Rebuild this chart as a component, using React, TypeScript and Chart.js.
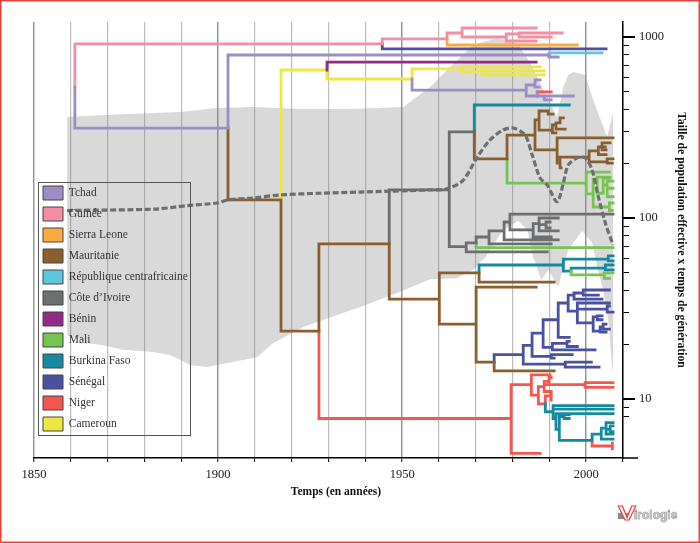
import React, { useEffect, useRef } from "react";
import { Chart, registerables } from "chart.js";

Chart.register(...registerables);

type P = [number, number];

const tchad: P[][] = [
  [[1861.1, 529], [1861.1, 314], [1902.7, 314], [1902.7, 795], [1989.9, 795], [1989.9, 775], [1992.4, 775]],
  [[1952.7, 586], [1952.7, 509], [1983.7, 509]],
  [[1983.7, 543], [1983.7, 472], [1986.7, 472]],
  [[1983.7, 543], [1986.1, 543]],
  [[1986.1, 579], [1986.1, 529], [1987.2, 529]],
  [[1986.1, 579], [1987.5, 579]],
  [[1986.7, 497], [1986.7, 472], [1988.6, 472], [1996.5, 472]],
  [[1988.6, 472], [1988.6, 449], [1990.5, 449]],
];
const guinee: P[][] = [
  [[1861.1, 529], [1861.1, 915], [1944.6, 915], [1944.6, 975], [1962.2, 975], [1962.2, 1052], [1966.3, 1052], [1966.3, 1121], [1986.4, 1121]],
  [[1966.3, 1052], [1966.3, 1000], [1978.3, 1000]],
  [[1978.3, 1039], [1978.3, 950], [1986.4, 950]],
  [[1978.3, 1039], [1981.8, 1039]],
  [[1981.8, 1052], [1993.5, 1052]],
  [[1981.8, 1052], [1981.8, 1000], [1990.5, 1000]],
];
const sierraLeone: P[][] = [
  [[1962.2, 975], [1962.2, 903], [1997.6, 903]],
];
const mauritanie: P[][] = [
  [[1902.7, 314], [1902.7, 126], [1917.1, 126], [1917.1, 23.7], [1927.4, 23.7], [1927.4, 72], [1946.5, 72], [1946.5, 35.6], [1960.1, 35.6], [1960.1, 49.7], [1970.9, 49.7], [1970.9, 44.2], [1991.3, 44.2]],
  [[1960.1, 35.6], [1960.1, 25.9], [1970.1, 25.9], [1970.1, 41.5], [1986.4, 41.5]],
  [[1970.1, 25.9], [1970.1, 16], [1975, 16], [1975, 14.3], [1991.3, 14.3]],
  [[1969.6, 299], [1969.6, 212], [1978.5, 212], [1978.5, 287], [1986.1, 287]],
  [[1986.1, 348], [1986.1, 238], [1992.1, 238]],
  [[1986.1, 348], [1987.2, 348], [1987.2, 390], [1989.7, 390], [1989.7, 375], [1991, 375]],
  [[1987.2, 348], [1987.2, 306], [1990.8, 306]],
  [[1990.8, 327], [1990.8, 295], [1991.8, 295]],
  [[1990.8, 327], [1991.8, 327]],
  [[1991.8, 335], [1991.8, 310], [1994.3, 310]],
  [[1991.8, 335], [1992.9, 335], [1992.9, 357], [1993.8, 357]],
  [[1992.1, 277], [1992.1, 201]],
  [[1992.1, 277], [2007.3, 277]],
  [[1992.1, 217], [2000.8, 217]],
  [[1992.9, 217], [1992.9, 189], [1993.2, 189]],
  [[2000.8, 235], [2000.8, 204], [2005.7, 204]],
  [[2005.7, 212], [2007.3, 212]],
  [[2005.7, 212], [2005.7, 201], [2007.1, 201]],
  [[2000.8, 235], [2003.3, 235]],
  [[2003.3, 247], [2003.3, 224], [2005.4, 224]],
  [[2003.3, 247], [2004.3, 247]],
  [[2004.3, 260], [2004.3, 238], [2005.4, 238]],
  [[2004.3, 260], [2006.5, 260]],
  [[2004.3, 247], [2005.2, 247]],
];
const centrafrique: P[][] = [
  [[1989.9, 795], [1989.9, 816], [2004.3, 816]],
];
const coteIvoire: P[][] = [
  [[1946.5, 72], [1946.5, 143], [1962.8, 143]],
  [[1969.6, 299], [1962.8, 299], [1962.8, 69.4], [1967.4, 69.4]],
  [[1967.4, 72.9], [1967.4, 64.9], [1989.4, 64.9]],
  [[1967.4, 72.9], [1970.1, 72.9], [1970.1, 78.5], [1973.6, 78.5]],
  [[1973.6, 84.8], [1973.6, 72], [1990.5, 72]],
  [[1973.6, 84.8], [1977.7, 84.8], [1977.7, 95], [1979.3, 95]],
  [[1977.7, 95], [1977.7, 75.7], [1992.4, 75.7]],
  [[1979.3, 105], [2007.3, 105]],
  [[1979.3, 105], [1979.3, 85.9], [1985.6, 85.9], [1985.6, 93], [1987.2, 93]],
  [[1985.6, 93], [1985.6, 78.5], [1990.5, 78.5]],
  [[1987.2, 100], [1992.4, 100]],
  [[1987.2, 100], [1987.2, 84.8], [1992.4, 84.8]],
  [[1987.2, 92], [1989.1, 92]],
  [[1989.1, 95], [1990.2, 95]],
  [[1989.1, 95], [1989.1, 88.1], [1990.2, 88.1]],
];
const benin: P[][] = [
  [[1929.6, 657], [1929.6, 727], [1986.4, 727]],
];
const mali: P[][] = [
  [[1970.1, 72.9], [1970.1, 68.5], [2007.3, 68.5]],
  [[1978.5, 212], [1978.5, 156], [2000, 156]],
  [[2000, 179], [2000, 136], [2001.9, 136]],
  [[2000, 179], [2006.3, 179]],
  [[2001.9, 164], [2001.9, 115], [2006.3, 115]],
  [[2001.9, 164], [2003, 164], [2003, 168], [2006.5, 168]],
  [[2003, 168], [2003, 137], [2004.6, 137]],
  [[2004.6, 166], [2006.5, 166]],
  [[2004.6, 166], [2004.6, 137]],
  [[2004.6, 152], [2005.7, 152]],
  [[2005.7, 160], [2007.3, 160]],
  [[2005.7, 160], [2005.7, 131], [2007.3, 131]],
  [[2005.7, 146], [2007.3, 146]],
  [[2006.3, 121], [2006.3, 110], [2007.1, 110]],
  [[2006.3, 121], [2007.3, 121]],
  [[1995.9, 50.9], [1995.9, 48.5], [2004.9, 48.5]],
  [[2004.9, 49.7], [2004.9, 46.4], [2006.3, 46.4]],
  [[2004.9, 49.7], [2007.3, 49.7]],
];
const burkina: P[][] = [
  [[1969.6, 299], [1969.6, 421], [1995.4, 421]],
  [[1970.9, 49.7], [1970.9, 55], [1993.8, 55]],
  [[1993.8, 59.3], [1993.8, 50.9], [1995.9, 50.9], [1995.9, 52.9], [2005.2, 52.9]],
  [[1993.8, 59.3], [2006, 59.3]],
  [[2006, 61.8], [2006, 57.9], [2007.3, 57.9]],
  [[2006, 61.8], [2007.3, 61.8]],
  [[2005.2, 55], [2005.2, 51.7], [2007.3, 51.7]],
  [[2005.2, 55], [2007.3, 55]],
  [[1988.9, 9.4], [1988.9, 8.5], [1991, 8.5]],
  [[1991, 9.2], [1991, 7.8], [1991.8, 7.8]],
  [[1991, 9.2], [2007.3, 9.2]],
  [[1991, 8.8], [2007.3, 8.8]],
  [[1991.8, 8.3], [1991.8, 6.8], [1992.7, 6.8]],
  [[1991.8, 8.3], [2007.3, 8.3]],
  [[1992.7, 8], [1992.7, 5.9], [2001.6, 5.9]],
  [[1992.7, 8], [1994, 8]],
  [[1994, 8.2], [1994, 7.8], [1995.4, 7.8]],
  [[1994, 8.2], [1995.4, 8.2]],
  [[2001.6, 6.4], [2001.6, 5.9]],
  [[2001.6, 6.4], [2004.1, 6.4]],
  [[2004.1, 6.9], [2004.1, 6], [2007.3, 6]],
  [[2004.1, 6.9], [2005.4, 6.9]],
  [[2005.4, 7.4], [2005.4, 6.4], [2007.3, 6.4]],
  [[2005.4, 7.4], [2007.3, 7.4]],
  [[2005.4, 6.8], [2006.5, 6.8]],
  [[2006.5, 7.1], [2007.3, 7.1]],
  [[2006.5, 7.1], [2006.5, 6.6], [2007.3, 6.6]],
];
const senegal: P[][] = [
  [[1944.6, 915], [1944.6, 859], [2005.4, 859]],
  [[1975, 16], [1975, 17.6], [1982.9, 17.6]],
  [[1982.9, 19.8], [1982.9, 15.6], [1994.3, 15.6]],
  [[1994.3, 16], [2001.4, 16]],
  [[1994.3, 16], [1994.3, 15], [2003.5, 15]],
  [[1982.9, 19.8], [1985.3, 19.8]],
  [[1985.3, 23.1], [1985.3, 17.2], [1990.5, 17.2]],
  [[1990.5, 17.6], [1996.2, 17.6]],
  [[1990.5, 17.6], [1990.5, 16.8], [1991.3, 16.8]],
  [[1985.3, 23.1], [1988.3, 23.1]],
  [[1988.3, 27.4], [1988.3, 19.3], [1990.8, 19.3]],
  [[1990.8, 20.3], [1990.8, 18.7], [2002.4, 18.7]],
  [[1990.8, 20.3], [1994.8, 20.3]],
  [[1994.8, 20.8], [1994.8, 19.5], [1997.6, 19.5]],
  [[1994.8, 20.8], [1995.4, 20.8]],
  [[1988.3, 27.4], [1992.4, 27.4]],
  [[1992.4, 33.9], [1992.4, 21.9], [1995.4, 21.9]],
  [[1992.4, 33.9], [1995.1, 33.9]],
  [[1995.1, 37.5], [1995.1, 30.6], [1997.6, 30.6]],
  [[1995.1, 37.5], [1996.7, 37.5]],
  [[1996.7, 38.5], [1996.7, 35.6], [2004.3, 35.6]],
  [[1996.7, 38.5], [1999.2, 38.5]],
  [[1999.2, 40], [1999.2, 37.5], [2003.3, 37.5]],
  [[1999.2, 40], [2006.3, 40]],
  [[1997.6, 33.9], [1997.6, 26.3], [2001.9, 26.3]],
  [[1997.6, 33.9], [2006.3, 33.9]],
  [[1997.6, 31.4], [2005.7, 31.4]],
  [[2005.7, 32.6], [2005.7, 30.2], [2007.3, 30.2]],
  [[2005.7, 32.6], [2006.3, 32.6]],
  [[2001.9, 28.4], [2001.9, 23.7], [2003.8, 23.7]],
  [[2001.9, 28.4], [2003, 28.4]],
  [[2003, 28.8], [2003, 27.4], [2004.3, 27.4]],
  [[2003, 28.8], [2004.3, 28.8]],
  [[2003.8, 25], [2003.8, 23.4], [2005.4, 23.4]],
  [[2003.8, 25], [2004.6, 25]],
  [[2004.6, 25.9], [2004.6, 24.3], [2006.3, 24.3]],
  [[2004.6, 25.9], [2005.4, 25.9]],
];
const niger: P[][] = [
  [[1927.4, 23.7], [1927.4, 7.8], [1979.6, 7.8]],
  [[1979.6, 12], [1979.6, 5], [1987.5, 5]],
  [[1979.6, 12], [1985.1, 12]],
  [[1985.1, 13.6], [1985.1, 10.5], [1987, 10.5]],
  [[1985.1, 13.6], [1990.2, 13.6]],
  [[1987, 11.7], [1987, 9.4], [1988.9, 9.4]],
  [[1987, 11.7], [1988.6, 11.7]],
  [[1988.6, 12.5], [1988.6, 11], [1990.5, 11]],
  [[1988.6, 12.5], [1989.9, 12.5]],
  [[1989.9, 13.1], [1989.9, 12]],
  [[1989.9, 13.1], [1990.5, 13.1]],
  [[1988.6, 12], [1999.7, 12]],
  [[1999.7, 12.3], [1999.7, 11.6], [2007.3, 11.6]],
  [[1999.7, 12.3], [2007.3, 12.3]],
  [[1988.9, 10.4], [1988.9, 9.4]],
  [[1988.9, 10.4], [1990.5, 10.4]],
  [[1990.5, 10.7], [1990.5, 9.9]],
  [[2001.6, 5.9], [2001.6, 5.5], [2007.1, 5.5]],
  [[2007.1, 5.7], [2007.1, 5.3]],
  [[1986.7, 472], [1986.7, 497], [1990.5, 497]],
];
const cameroun: P[][] = [
  [[1917.1, 126], [1917.1, 657], [1929.6, 657], [1929.6, 586], [1952.7, 586], [1952.7, 666], [1966.3, 666]],
  [[1966.3, 683], [1966.3, 641], [1972, 641]],
  [[1966.3, 683], [1987.5, 683]],
  [[1972, 649], [1972, 617], [1988.6, 617]],
  [[1972, 649], [1988.6, 649]],
];

const popMedian: P[] = [
  [1859, 110], [1882.9, 112], [1891.6, 117], [1899.7, 121], [1902.7, 126], [1909.5, 129], [1916.8, 134], [1927.7, 137], [1938.6, 139], [1957.6, 143], [1962.2, 145], [1966.6, 162], [1970.4, 217], [1973.9, 270], [1977.4, 306], [1980.2, 314], [1983.4, 287], [1985.3, 224], [1987.5, 166], [1989.4, 152], [1992.1, 123], [1993.8, 156], [1995.1, 196], [1997.6, 215], [1999.7, 215], [2001.6, 184], [2003.3, 131], [2005.2, 93.9], [2007.3, 71],
];
const popUpper: P[] = [
  [1859, 361], [1869.8, 371], [1875.3, 375], [1889.7, 385], [1899.7, 405], [1909.5, 410], [1922.3, 400], [1935.9, 400], [1950.3, 410], [1957.6, 529], [1963, 683], [1969.3, 903], [1975.8, 987], [1981.3, 926], [1984.8, 718], [1989.4, 466], [1992.1, 361], [1993.8, 529], [1995.1, 617], [1996.5, 641], [1999.7, 617], [2001.9, 449], [2005.7, 280], [2007.3, 380],
];
const popLower: P[] = [
  [2007.3, 14.5], [2007.1, 14.5], [2006, 27.4], [2004.6, 40], [2003, 53.6], [2001.6, 72.9], [1998.9, 84.8], [1995.1, 66.6], [1992.4, 41.5], [1989.7, 51.7], [1987.8, 45.5], [1985.6, 60.7], [1984, 85.9], [1981.5, 96.3], [1977.4, 85.9], [1972.6, 60.7], [1969.3, 51.7], [1965, 46.4], [1957.6, 45.9], [1949.5, 39.1], [1938.6, 32.2], [1923.1, 25], [1914.9, 20.3], [1910.6, 17], [1897, 15], [1892.4, 15.4], [1887, 17.5], [1882.3, 18.2], [1874.2, 18.7], [1868.8, 19.8], [1864.7, 20.3], [1859, 22.6],
];

const countries = ["Tchad", "Guinée", "Sierra Leone", "Mauritanie", "République centrafricaine", "Côte d’Ivoire", "Bénin", "Mali", "Burkina Faso", "Sénégal", "Niger", "Cameroun"];
const countryColors = ["#9b8ec4", "#f48fa3", "#fbab3c", "#8b5e2f", "#5bc8e0", "#6d6e70", "#942a87", "#78c453", "#15899f", "#4a51a0", "#f4574f", "#ede73f"];
const countryBranches = [tchad, guinee, sierraLeone, mauritanie, centrafrique, coteIvoire, benin, mali, burkina, senegal, niger, cameroun];
const yTickValues = [8, 9, 10, 20, 30, 40, 50, 60, 70, 80, 90, 100, 200, 300, 400, 500, 600, 700, 800, 900, 1000];
const yMajor = [10, 100, 1000];

const SERIF = "'Liberation Serif', 'Times New Roman', serif";

const toPoints = (lines: P[][]) =>
  lines.flatMap((l) => [...l.map(([x, y]) => ({ x, y })), { x: NaN, y: NaN }]);

const decor = {
  id: "decor",
  beforeLayout(chart: any) {
    const legend = chart.legend;
    if (legend) {
      legend._layers = () => [
        {
          z: 1,
          draw: (area: any) => {
            legend.left = 36;
            legend.right = 192;
            legend.top = 179;
            legend.bottom = 438;
            legend.draw(area);
          },
        },
      ];
    }
  },
  beforeDraw(chart: any) {
    const x = chart.scales.x;
    if (!x.__titleWrapped) {
      const orig = x.drawTitle;
      x.drawTitle = function () {
        const r = this.right;
        this.right = 638;
        orig.call(this);
        this.right = r;
      };
      x.__titleWrapped = true;
    }
  },
  afterDraw(chart: any) {
    const { ctx, scales } = chart;
    const right = scales.y.left;
    const bottom = scales.x.top;
    ctx.save();
    // legend frame
    ctx.strokeStyle = "#555";
    ctx.lineWidth = 1;
    ctx.strokeRect(38.5, 182.5, 152, 253);
    // axis extension and major ticks
    ctx.strokeStyle = "#000";
    ctx.lineWidth = 1.5;
    ctx.beginPath();
    ctx.moveTo(right, bottom);
    ctx.lineTo(638, bottom);
    ctx.stroke();
    ctx.lineWidth = 2;
    yMajor.forEach((v) => {
      const p = scales.y.getPixelForValue(v);
      ctx.beginPath();
      ctx.moveTo(right, p);
      ctx.lineTo(right + 12, p);
      ctx.stroke();
    });
    // page frame
    ctx.strokeStyle = "#e8403a";
    ctx.lineWidth = 1.5;
    ctx.strokeRect(0.75, 0.75, 698.5, 541.5);
    // logo
    ctx.fillStyle = "#8a8a8c";
    ctx.fillRect(618, 513, 12, 6);
    ctx.font = "bold 12px 'Liberation Sans', sans-serif";
    ctx.textBaseline = "alphabetic";
    ctx.textAlign = "left";
    ctx.lineWidth = 0.6;
    ctx.strokeStyle = "#777";
    ctx.fillStyle = "#c4c4c6";
    ctx.strokeText("irologie", 634, 519);
    ctx.fillText("irologie", 634, 519);
    ctx.translate(618, 520);
    ctx.scale(1.35, 1);
    ctx.font = "bold 20px 'Liberation Sans', sans-serif";
    ctx.fillStyle = "#fff";
    ctx.strokeStyle = "#e8403a";
    ctx.lineWidth = 0.9;
    ctx.fillText("V", 0, 0);
    ctx.strokeText("V", 0, 0);
    ctx.restore();
  },
};

export default function App() {
  const ref = useRef<HTMLCanvasElement | null>(null);
  useEffect(() => {
    document.body.style.margin = "0";
    const datasets: any[] = [
      {
        label: "effectif",
        data: popMedian.map(([x, y]) => ({ x, y })),
        showLine: true,
        borderColor: "#6d6e70",
        borderWidth: 3.2,
        borderDash: [6, 2.6],
        tension: 0.3,
        pointRadius: 0,
        order: -1,
      },
      ...countries.map((name, i) => ({
        label: name,
        data: toPoints(countryBranches[i]),
        showLine: true,
        borderColor: countryColors[i],
        backgroundColor: countryColors[i],
        borderWidth: 2.8,
        borderCapStyle: "square",
        borderJoinStyle: "miter",
        borderDash: [100000, 0],
        pointRadius: 0,
        spanGaps: false,
        order: 0,
      })),
      {
        label: "intervalle",
        data: [...popUpper, ...popLower].map(([x, y]) => ({ x, y })),
        showLine: true,
        borderWidth: 0,
        borderColor: "rgba(0,0,0,0)",
        backgroundColor: "rgba(128,128,128,0.3)",
        fill: "shape",
        pointRadius: 0,
        order: 10,
      },
    ];
    const chart = new Chart(ref.current as HTMLCanvasElement, {
      type: "scatter",
      data: { datasets },
      plugins: [decor],
      options: {
        animation: false,
        responsive: false,
        devicePixelRatio: 1,
        layout: { padding: { left: 34, top: 22, right: 0, bottom: 0 } },
        plugins: {
          title: { display: false },
          tooltip: { enabled: false },
          legend: {
            position: "chartArea",
            align: "start",
            labels: {
              boxWidth: 20,
              boxHeight: 14,
              padding: 7,
              color: "#333",
              font: { family: SERIF, size: 11.5 },
              generateLabels: () =>
                countries.map((text, i) => ({
                  text,
                  fillStyle: countryColors[i],
                  strokeStyle: "#444",
                  lineWidth: 1,
                  fontColor: "#333",
                  hidden: false,
                  datasetIndex: i + 1,
                })),
            },
          },
        },
        scales: {
          x: {
            type: "linear",
            position: "bottom",
            min: 1850,
            max: 2010,
            afterFit: (s: any) => {
              s.height = 85;
            },
            border: { color: "#000", width: 1.5 },
            grid: {
              color: (c: any) => (c.tick && c.tick.value % 50 === 0 ? "#969696" : "#bcbcbc"),
              lineWidth: (c: any) => (c.tick && c.tick.value % 50 === 0 ? 1.5 : 1.2),
              tickLength: 4,
              tickColor: "#000",
              tickWidth: 1,
            },
            ticks: {
              stepSize: 10,
              autoSkip: false,
              maxRotation: 0,
              padding: 5,
              color: "#222",
              font: { family: SERIF, size: 12.5 },
              callback: (v: any) => (Number(v) % 50 === 0 && Number(v) < 2010 ? String(v) : ""),
            },
            title: {
              display: true,
              text: "Temps (en années)",
              color: "#111",
              font: { family: SERIF, size: 11.5, weight: "bold" },
              padding: { top: 0, bottom: 44 },
            },
          },
          y: {
            type: "logarithmic",
            position: "right",
            min: 4.72,
            max: 1210,
            afterFit: (s: any) => {
              s.width = 77;
            },
            afterBuildTicks: (s: any) => {
              s.ticks = yTickValues.map((value) => ({ value }));
            },
            border: { color: "#000", width: 1.5 },
            grid: { drawOnChartArea: false, tickLength: 6, tickColor: "#000", lineWidth: 1 },
            ticks: {
              autoSkip: false,
              maxRotation: 0,
              padding: 10,
              color: "#222",
              font: { family: SERIF, size: 12.5 },
              callback: (v: any) => (yMajor.includes(Number(v)) ? String(v) : ""),
            },
            title: {
              display: true,
              text: "Taille de population effective x temps de génération",
              color: "#111",
              font: { family: SERIF, size: 11.7, weight: "bold" },
              padding: { top: 12, bottom: 0 },
            },
          },
        },
      } as any,
    } as any);
    return () => chart.destroy();
  }, []);
  return (
    <div style={{ width: 700, height: 543 }}>
      <canvas ref={ref} width={700} height={543} style={{ display: "block" }} />
    </div>
  );
}
